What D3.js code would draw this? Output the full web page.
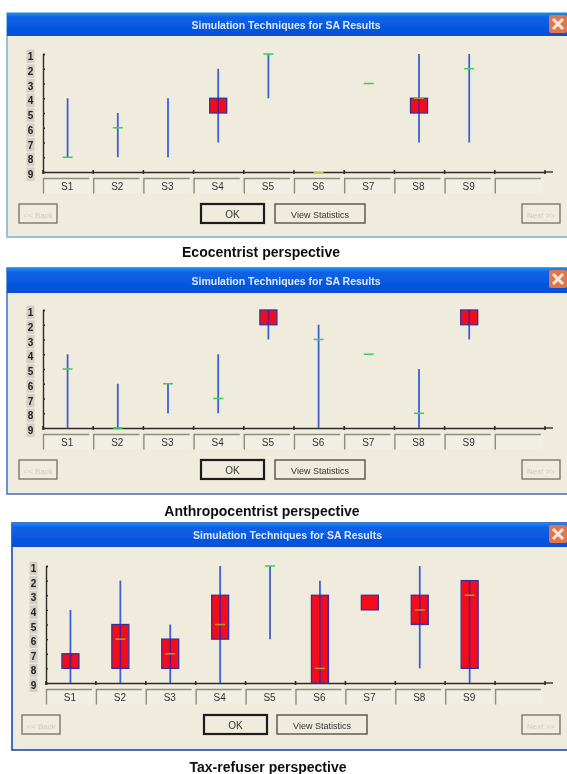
<!DOCTYPE html>
<html>
<head>
<meta charset="utf-8">
<script src="https://cdn.jsdelivr.net/npm/d3@7"></script>
<style>
    html, body { margin: 0; padding: 0; background: #fff; }
    svg { display: block; }
    #blurred { filter: url(#soft); }
</style>
</head>
<body>
<div id="chart"></div>
<script>
    // Data
    const categories = ['S1', 'S2', 'S3', 'S4', 'S5', 'S6', 'S7', 'S8', 'S9', ''];
    const ranks = [1, 2, 3, 4, 5, 6, 7, 8, 9];

    // null = not drawn in the picture
    const ecoWhiskerLow = [4, 5, 4, 2, 1, null, null, 1, 1];
    const ecoWhiskerHigh = [8, 8, 8, 7, 4, null, null, 7, 7];
    const ecoBoxLow = [null, null, null, 4, null, null, null, 4, null];
    const ecoBoxHigh = [null, null, null, 5, null, null, null, 5, null];
    const ecoMedian = [8, 6, null, null, 1, 9, 3, 4, 2];

    const anthWhiskerLow = [4, 6, 6, 4, 1, 2, null, 5, 1];
    const anthWhiskerHigh = [9, 9, 8, 8, 3, 9, null, 9, 3];
    const anthBoxLow = [null, null, null, null, 1, null, null, null, 1];
    const anthBoxHigh = [null, null, null, null, 2, null, null, null, 2];
    const anthMedian = [5, 9, 6, 7, null, 3, 4, 8, null];

    const taxWhiskerLow = [4, 2, 5, 1, 1, 2, null, 1, 2];
    const taxWhiskerHigh = [9, 9, 9, 9, 6, 9, null, 8, 9];
    const taxBoxLow = [7, 5, 6, 3, null, 3, 3, 3, 2];
    const taxBoxHigh = [8, 8, 8, 6, null, 9, 4, 5, 8];
    const taxMedian = [null, 6, 7, 5, 1, 8, null, 4, 3];

    const windowTitle = 'Simulation Techniques for SA Results';

    // Dimensions
    const dimensions = { width: 567, height: 774 };

    const panels = [
        {
            caption: 'Ecocentrist perspective', captionX: 261, captionY: 257,
            left: 7, top: 13, titleBottom: 36, bottom: 237, edge: '#7db4d8',
            axisLeft: 43, axisRight: 545, rankTop: 54, rankBottom: 172,
            back: 19, ok: 201, stats: 275, next: 522, buttonTop: 204,
            whiskerLow: ecoWhiskerLow, whiskerHigh: ecoWhiskerHigh,
            boxLow: ecoBoxLow, boxHigh: ecoBoxHigh, median: ecoMedian,
        },
        {
            caption: 'Anthropocentrist perspective', captionX: 262, captionY: 516,
            left: 7, top: 268, titleBottom: 293, bottom: 494, edge: '#4a78c8',
            axisLeft: 43, axisRight: 545, rankTop: 310, rankBottom: 428,
            back: 19, ok: 201, stats: 275, next: 522, buttonTop: 460,
            whiskerLow: anthWhiskerLow, whiskerHigh: anthWhiskerHigh,
            boxLow: anthBoxLow, boxHigh: anthBoxHigh, median: anthMedian,
        },
        {
            caption: 'Tax-refuser perspective', captionX: 268, captionY: 772,
            left: 12, top: 523, titleBottom: 547, bottom: 750, edge: '#2446b8',
            axisLeft: 46, axisRight: 545, rankTop: 566, rankBottom: 683,
            back: 22, ok: 204, stats: 277, next: 522, buttonTop: 715,
            whiskerLow: taxWhiskerLow, whiskerHigh: taxWhiskerHigh,
            boxLow: taxBoxLow, boxHigh: taxBoxHigh, median: taxMedian,
        },
    ];

    // Draw Image
    const svg = d3.select('#chart')
        .append('svg')
        .attr('width', dimensions.width)
        .attr('height', dimensions.height);

    const defs = svg.append('defs');
    defs.append('filter')
        .attr('id', 'soft')
        .attr('x', 0).attr('y', 0).attr('width', 1).attr('height', 1)
        .append('feGaussianBlur')
        .attr('stdDeviation', 0.6);

    const titleGradient = defs.append('linearGradient')
        .attr('id', 'titlebar')
        .attr('x1', 0).attr('y1', 0).attr('x2', 0).attr('y2', 1);
    titleGradient.append('stop').attr('offset', '0%').attr('stop-color', '#1f8cf0');
    titleGradient.append('stop').attr('offset', '18%').attr('stop-color', '#0a62e6');
    titleGradient.append('stop').attr('offset', '80%').attr('stop-color', '#0554dc');
    titleGradient.append('stop').attr('offset', '100%').attr('stop-color', '#0a4cd0');

    const root = svg.append('g').attr('id', 'blurred');

    root.append('rect')
        .attr('width', dimensions.width)
        .attr('height', dimensions.height)
        .attr('fill', '#fff');

    const uiFont = '"Liberation Sans", Arial, sans-serif';

    function drawButton(g, x, y, width, height, label, opts) {
        g.append('rect')
            .attr('x', x).attr('y', y)
            .attr('width', width).attr('height', height)
            .attr('fill', '#efebdd')
            .attr('stroke', opts.stroke)
            .attr('stroke-width', opts.strokeWidth);
        g.append('text')
            .attr('x', x + width / 2).attr('y', y + height / 2 + 4)
            .attr('text-anchor', 'middle')
            .attr('font-family', uiFont)
            .attr('font-size', opts.size)
            .attr('fill', opts.color)
            .text(label);
    }

    panels.forEach(panel => {
        const g = root.append('g');

        // Window
        g.append('rect')
            .attr('x', panel.left).attr('y', panel.top)
            .attr('width', dimensions.width - panel.left + 4)
            .attr('height', panel.bottom - panel.top)
            .attr('fill', '#efebdd')
            .attr('stroke', panel.edge)
            .attr('stroke-width', 1.6);

        g.append('rect')
            .attr('x', panel.left).attr('y', panel.top)
            .attr('width', dimensions.width - panel.left)
            .attr('height', panel.titleBottom - panel.top)
            .attr('fill', 'url(#titlebar)');

        g.append('text')
            .attr('x', (panel.axisLeft + panel.axisRight) / 2 - 8)
            .attr('y', (panel.top + panel.titleBottom) / 2 + 4)
            .attr('text-anchor', 'middle')
            .attr('font-family', uiFont)
            .attr('font-size', 10.5)
            .attr('font-weight', 'bold')
            .attr('fill', '#dfe9f8')
            .text(windowTitle);

        // Close button
        const closeX = 549, closeY = panel.top + 2;
        g.append('rect')
            .attr('x', closeX).attr('y', closeY)
            .attr('width', 18).attr('height', 18)
            .attr('rx', 2)
            .attr('fill', '#e2744a');
        g.append('path')
            .attr('d', `M${closeX + 4},${closeY + 4}l10,10m0,-10l-10,10`)
            .attr('stroke', '#f6e6dc')
            .attr('stroke-width', 3);

        // Scales
        const xScale = d3.scaleBand()
            .domain(categories)
            .range([panel.axisLeft, panel.axisRight]);

        const yScale = d3.scaleLinear()
            .domain([1, 9])
            .range([panel.rankTop, panel.rankBottom]);

        // Rank labels sit on a grey strip, slightly below their ticks
        const labelX = panel.axisLeft - 12.5;
        g.append('g')
            .selectAll('rect')
            .data(ranks)
            .join('rect')
            .attr('x', labelX - 4)
            .attr('y', d => yScale(d) - 4.5)
            .attr('width', 8)
            .attr('height', 13.5)
            .attr('fill', '#d2cfc5');
        g.append('g')
            .selectAll('text')
            .data(ranks)
            .join('text')
            .attr('x', labelX)
            .attr('y', d => yScale(d) + 6)
            .attr('text-anchor', 'middle')
            .attr('font-family', uiFont)
            .attr('font-size', 10)
            .attr('font-weight', 'bold')
            .attr('fill', '#222')
            .text(d => d);

        // Axes
        const yAxis = d3.axisRight(yScale)
            .tickValues(ranks)
            .tickSize(2)
            .tickFormat('');
        g.append('g')
            .attr('transform', `translate(${panel.axisLeft}, 0)`)
            .call(yAxis)
            .call(a => a.selectAll('path, line').attr('stroke', '#2e2c28').attr('stroke-width', 1.4));

        const xAxis = d3.axisBottom(xScale)
            .tickSize(0)
            .tickFormat('');
        const xAxisGroup = g.append('g')
            .attr('transform', `translate(0, ${panel.rankBottom})`)
            .call(xAxis);
        xAxisGroup.select('.domain')
            .attr('stroke', '#2e2c28')
            .attr('stroke-width', 1.4);

        const step = xScale.step();
        g.append('line')
            .attr('x1', panel.axisRight).attr('x2', panel.axisRight + 8)
            .attr('y1', panel.rankBottom).attr('y2', panel.rankBottom)
            .attr('stroke', '#2e2c28')
            .attr('stroke-width', 1.4);
        g.append('g')
            .selectAll('line')
            .data(categories.concat('end'))
            .join('line')
            .attr('x1', (d, i) => i < categories.length ? xScale(d) : panel.axisRight)
            .attr('x2', (d, i) => i < categories.length ? xScale(d) : panel.axisRight)
            .attr('y1', panel.rankBottom - 2)
            .attr('y2', panel.rankBottom + 2)
            .attr('stroke', '#2e2c28')
            .attr('stroke-width', 1.6);

        // Category cells under the axis
        const cells = g.append('g')
            .selectAll('g')
            .data(categories)
            .join('g')
            .attr('transform', d => `translate(${xScale(d)}, ${panel.rankBottom + 6})`);
        cells.append('rect')
            .attr('width', step - 2)
            .attr('height', 15)
            .attr('fill', '#f1eee3');
        cells.append('path')
            .attr('d', `M0.5,15.5V0.5H${step - 4}`)
            .attr('fill', 'none')
            .attr('stroke', '#8f8c80')
            .attr('stroke-width', 1.4);
        cells.append('text')
            .attr('x', (step - 2) / 2)
            .attr('y', 12)
            .attr('text-anchor', 'middle')
            .attr('font-family', uiFont)
            .attr('font-size', 10)
            .attr('fill', '#333')
            .text(d => d);

        // Marks
        const rows = categories.slice(0, 9).map((name, i) => ({
            name,
            whiskerLow: panel.whiskerLow[i],
            whiskerHigh: panel.whiskerHigh[i],
            boxLow: panel.boxLow[i],
            boxHigh: panel.boxHigh[i],
            median: panel.median[i],
        }));
        const xCenter = d => xScale(d.name) + xScale.bandwidth() / 2 - 0.5;
        const boxWidth = 17;

        g.append('g')
            .selectAll('line')
            .data(rows.filter(d => d.whiskerLow !== null))
            .join('line')
            .attr('x1', xCenter)
            .attr('x2', xCenter)
            .attr('y1', d => yScale(d.whiskerLow))
            .attr('y2', d => yScale(d.whiskerHigh))
            .attr('stroke', '#3f5fd0')
            .attr('stroke-width', 1.8);

        const withBox = rows.filter(d => d.boxLow !== null);
        g.append('g')
            .selectAll('rect')
            .data(withBox)
            .join('rect')
            .attr('x', d => xCenter(d) - boxWidth / 2)
            .attr('y', d => yScale(d.boxLow))
            .attr('width', boxWidth)
            .attr('height', d => yScale(d.boxHigh) - yScale(d.boxLow))
            .attr('fill', '#f20a1a')
            .attr('stroke', '#3b2f9a')
            .attr('stroke-width', 1.3);

        // Whisker shows dark through the box
        g.append('g')
            .selectAll('line')
            .data(withBox.filter(d => d.whiskerLow !== null))
            .join('line')
            .attr('x1', xCenter)
            .attr('x2', xCenter)
            .attr('y1', d => yScale(Math.max(d.boxLow, d.whiskerLow)))
            .attr('y2', d => yScale(Math.min(d.boxHigh, d.whiskerHigh)))
            .attr('stroke', '#5a1f8a')
            .attr('stroke-width', 1.6);

        const isBoxed = d => d.boxLow !== null && d.median >= d.boxLow && d.median <= d.boxHigh;
        g.append('g')
            .selectAll('line')
            .data(rows.filter(d => d.median !== null))
            .join('line')
            .attr('x1', d => xCenter(d) - 5)
            .attr('x2', d => xCenter(d) + 5)
            .attr('y1', d => yScale(d.median))
            .attr('y2', d => yScale(d.median))
            .attr('stroke', d => isBoxed(d) ? '#b09a28' : (d.median === 9 && d.whiskerLow === null ? '#e4e45a' : '#3fcf60'))
            .attr('stroke-width', 1.6);

        // Buttons
        const disabled = { stroke: '#7a776e', strokeWidth: 1.4, size: 8, color: '#cfccc0' };
        drawButton(g, panel.back, panel.buttonTop, 38, 19, '<< Back', disabled);
        drawButton(g, panel.ok, panel.buttonTop, 63, 19, 'OK', { stroke: '#1c1c1c', strokeWidth: 2.2, size: 10, color: '#333' });
        drawButton(g, panel.stats, panel.buttonTop, 90, 19, 'View Statistics', { stroke: '#5e5b52', strokeWidth: 1.5, size: 9, color: '#333' });
        drawButton(g, panel.next, panel.buttonTop, 38, 19, 'Next >>', disabled);

        // Caption
        g.append('text')
            .attr('x', panel.captionX)
            .attr('y', panel.captionY)
            .attr('text-anchor', 'middle')
            .attr('font-family', uiFont)
            .attr('font-size', 14)
            .attr('font-weight', 'bold')
            .attr('fill', '#111')
            .text(panel.caption);
    });
</script>
</body>
</html>
